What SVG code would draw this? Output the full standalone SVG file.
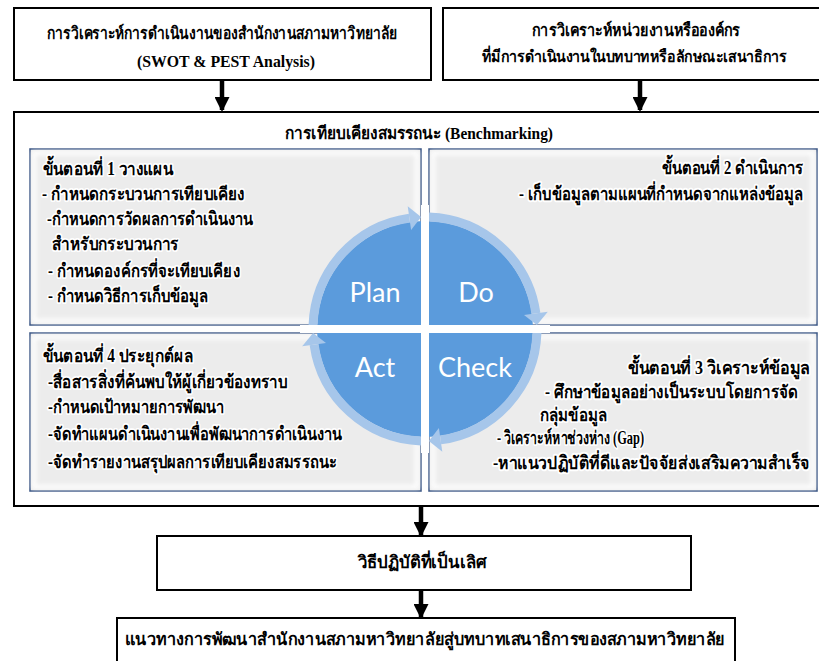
<svg xmlns="http://www.w3.org/2000/svg" width="819" height="661" viewBox="0 0 819 661">
<style>
.box{fill:#fff;stroke:#000;stroke-width:2}
.panel{fill:#ececec;stroke:#2e4b7d;stroke-width:1.5}
.glow{fill:none;stroke:#fff;stroke-width:5;opacity:.85}
.th{font-family:"Liberation Serif","Noto Sans",serif;font-weight:bold;fill:#000}
.hd{font-size:17px}
.pt{font-size:18px;stroke:#fff;stroke-width:3.5;stroke-linejoin:round;paint-order:stroke}
.pn{font-size:15px;stroke:#fff;stroke-width:3.2;stroke-linejoin:round;paint-order:stroke}
.e{text-anchor:end}
.q{font-family:Lato,"Open Sans",sans-serif;font-size:27px;fill:#fff;text-anchor:middle}
.ring{fill:none;stroke:#a6c6ea;stroke-width:9}
.head{fill:#a6c6ea}
.conn{stroke:#000;stroke-width:4.5;marker-end:url(#ah)}
</style>
<defs>
<marker id="ah" markerUnits="userSpaceOnUse" markerWidth="15" markerHeight="15" viewBox="0 0 15 15" refX="13" refY="7.5" orient="auto">
<path d="M0,0 L15,7.5 L0,15 z" fill="#000"/>
</marker>
<filter id="blur" x="-5%" y="-5%" width="110%" height="110%"><feGaussianBlur stdDeviation="2"/></filter>
</defs>

<g id="analysis-office">
<rect class="box" x="14" y="8" width="417" height="72"/>
<text class="th hd" x="222" y="39" text-anchor="middle" textLength="350" lengthAdjust="spacingAndGlyphs">การวิเคราะห์การดำเนินงานของสำนักงานสภามหาวิทยาลัย</text>
<text class="th" x="226" y="67" font-size="16" text-anchor="middle" textLength="178" lengthAdjust="spacingAndGlyphs">(SWOT &amp; PEST Analysis)</text>
</g>

<g id="analysis-org">
<rect class="box" x="443" y="8" width="377" height="72"/>
<text class="th hd" x="636" y="36" text-anchor="middle" textLength="208" lengthAdjust="spacingAndGlyphs">การวิเคราะห์หน่วยงานหรือองค์กร</text>
<text class="th" transform="translate(634,62) scale(1,1.185)" font-size="13.5" text-anchor="middle" textLength="305" lengthAdjust="spacingAndGlyphs">ที่มีการดำเนินงานในบทบาทหรือลักษณะเสนาธิการ</text>
</g>

<g id="benchmarking">
<rect class="box" x="14" y="112" width="806" height="394"/>
<text class="th hd" x="419" y="139" text-anchor="middle" textLength="268" lengthAdjust="spacingAndGlyphs">การเทียบเคียงสมรรถนะ (Benchmarking)</text>

<g id="step1-plan">
<rect class="panel" x="30" y="149" width="391" height="176"/>
<rect class="glow" x="34" y="153" width="383" height="168" filter="url(#blur)"/>
<text class="th pt" x="43" y="175" textLength="130" lengthAdjust="spacingAndGlyphs">ขั้นตอนที่ 1 วางแผน</text>
<text class="th pt" x="42" y="200" textLength="203" lengthAdjust="spacingAndGlyphs">- กำหนดกระบวนการเทียบเคียง</text>
<text class="th pt" x="47" y="225" textLength="206" lengthAdjust="spacingAndGlyphs">-กำหนดการวัดผลการดำเนินงาน</text>
<text class="th pt" x="52" y="250" textLength="127" lengthAdjust="spacingAndGlyphs">สำหรับกระบวนการ</text>
<text class="th pt" x="48" y="277" textLength="192" lengthAdjust="spacingAndGlyphs">- กำหนดองค์กรที่จะเทียบเคียง</text>
<text class="th pt" x="48" y="302" textLength="160" lengthAdjust="spacingAndGlyphs">- กำหนดวิธีการเก็บข้อมูล</text>
</g>

<g id="step2-do">
<rect class="panel" x="429" y="149" width="388" height="176"/>
<rect class="glow" x="433" y="153" width="380" height="168" filter="url(#blur)"/>
<text class="th pn e" transform="translate(803,174) scale(1,1.2)" textLength="141" lengthAdjust="spacingAndGlyphs">ขั้นตอนที่ 2 ดำเนินการ</text>
<text class="th pn e" transform="translate(803,200) scale(1,1.2)" textLength="284" lengthAdjust="spacingAndGlyphs">- เก็บข้อมูลตามแผนที่กำหนดจากแหล่งข้อมูล</text>
</g>

<g id="step4-act">
<rect class="panel" x="30" y="333" width="391" height="158"/>
<rect class="glow" x="34" y="337" width="383" height="150" filter="url(#blur)"/>
<text class="th pt" x="43" y="362" textLength="150" lengthAdjust="spacingAndGlyphs">ขั้นตอนที่ 4 ประยุกต์ผล</text>
<text class="th pt" x="48" y="388" textLength="239" lengthAdjust="spacingAndGlyphs">-สื่อสารสิ่งที่ค้นพบให้ผู้เกี่ยวข้องทราบ</text>
<text class="th pt" x="48" y="413" textLength="176" lengthAdjust="spacingAndGlyphs">-กำหนดเป้าหมายการพัฒนา</text>
<text class="th pt" x="48" y="440" textLength="294" lengthAdjust="spacingAndGlyphs">-จัดทำแผนดำเนินงานเพื่อพัฒนาการดำเนินงาน</text>
<text class="th pt" x="48" y="468" textLength="289" lengthAdjust="spacingAndGlyphs">-จัดทำรายงานสรุปผลการเทียบเคียงสมรรถนะ</text>
</g>

<g id="step3-check">
<rect class="panel" x="429" y="333" width="388" height="158"/>
<rect class="glow" x="433" y="337" width="380" height="150" filter="url(#blur)"/>
<text class="th pn e" transform="translate(810,374) scale(1,1.2)" textLength="182" lengthAdjust="spacingAndGlyphs">ขั้นตอนที่ 3  วิเคราะห์ข้อมูล</text>
<text class="th pn e" transform="translate(798,398) scale(1,1.2)" textLength="253" lengthAdjust="spacingAndGlyphs">- ศึกษาข้อมูลอย่างเป็นระบบโดยการจัด</text>
<text class="th pt" x="540" y="421" textLength="67" lengthAdjust="spacingAndGlyphs">กลุ่มข้อมูล</text>
<text class="th pt" x="497" y="444" textLength="147" lengthAdjust="spacingAndGlyphs">- วิเคราะห์หาช่วงห่าง (Gap)</text>
<text class="th pn e" transform="translate(810,469) scale(1,1.2)" textLength="317" lengthAdjust="spacingAndGlyphs">-หาแนวปฏิบัติที่ดีและปัจจัยส่งเสริมความสำเร็จ</text>
</g>

<g id="pdca-cycle">
<circle cx="425" cy="329" r="108" fill="#5b9bdc"/>
<path class="ring" d="M313.07,325.09 A112,112 0 0 1 409.41,218.09"/>
<polygon class="head" points="407.7,206.2 421.1,217.1 411.1,230.0"/>
<path class="ring" d="M428.91,217.07 A112,112 0 0 1 535.91,313.41"/>
<polygon class="head" points="547.8,311.7 536.9,325.1 524.0,315.1"/>
<path class="ring" d="M536.93,332.91 A112,112 0 0 1 440.59,439.91"/>
<polygon class="head" points="442.3,451.8 428.9,440.9 438.9,428.0"/>
<path class="ring" d="M421.09,440.93 A112,112 0 0 1 314.09,344.59"/>
<polygon class="head" points="302.2,346.3 313.1,332.9 326.0,342.9"/>
<rect x="421" y="205" width="8" height="248" fill="#fff"/>
<rect x="300" y="325" width="250" height="8" fill="#fff"/>
<text class="q" x="375" y="302">Plan</text>
<text class="q" x="476" y="302">Do</text>
<text class="q" x="375" y="377">Act</text>
<text class="q" x="475" y="377">Check</text>
</g>
</g>

<g id="best-practice">
<rect class="box" x="157" y="536" width="534" height="54"/>
<text class="th hd" x="422" y="568" text-anchor="middle" textLength="129" lengthAdjust="spacingAndGlyphs">วิธีปฏิบัติที่เป็นเลิศ</text>
</g>

<g id="development-guideline">
<rect class="box" x="117" y="618" width="618" height="60"/>
<text class="th hd" x="425" y="645" text-anchor="middle" textLength="600" lengthAdjust="spacingAndGlyphs">แนวทางการพัฒนาสำนักงานสภามหาวิทยาลัยสู่บทบาทเสนาธิการของสภามหาวิทยาลัย</text>
</g>

<g id="connectors">
<line class="conn" x1="222" y1="80" x2="222" y2="110"/>
<line class="conn" x1="640" y1="80" x2="640" y2="110"/>
<line class="conn" x1="421" y1="506" x2="421" y2="535"/>
<line class="conn" x1="421" y1="590" x2="421" y2="617"/>
</g>
</svg>
